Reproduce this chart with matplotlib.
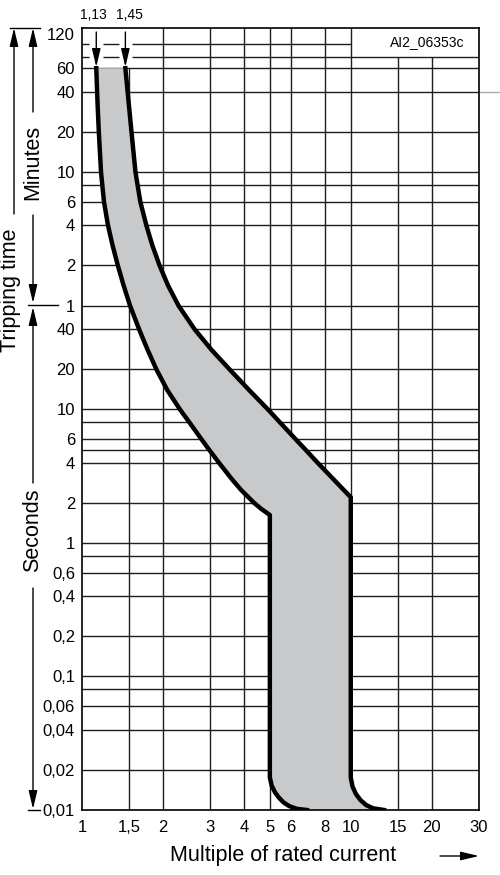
import matplotlib
matplotlib.use('Agg')
import matplotlib.pyplot as plt
from matplotlib.lines import Line2D
from matplotlib.patches import ArrowStyle, FancyArrowPatch

plt.rcParams['font.family'] = ['Liberation Sans', 'DejaVu Sans']

# tripping curve limits: multiple of rated current vs. time in seconds
low_x = [1.130, 1.142, 1.155, 1.177, 1.207, 1.249, 1.299, 1.359, 1.428, 1.509, 1.630, 1.754,
         1.891, 2.075, 2.315, 2.510, 2.780, 2.970, 3.230, 3.614, 3.905, 4.364, 4.645, 5.0,
         5.0, 5.08, 5.22, 5.40, 5.62, 5.90, 6.30, 6.87]
low_t = [3600, 2000, 1200, 600, 360, 240, 170, 120, 85, 60, 40, 28,
         20, 14, 10, 8, 6, 5, 4, 3, 2.5, 2.0, 1.8, 1.62,
         0.0175, 0.0152, 0.0136, 0.0124, 0.0114, 0.0107, 0.0102, 0.0100]

high_x = [1.450, 1.491, 1.528, 1.581, 1.648, 1.735, 1.826, 1.943, 2.089, 2.286, 2.621, 3.032,
          3.538, 4.182, 4.920, 5.453, 6.228, 6.785, 7.518, 10.0,
          10.0, 10.15, 10.45, 10.85, 11.4, 12.1, 13.3]
high_t = [3600, 2000, 1200, 600, 360, 240, 170, 120, 85, 60, 40, 28,
          20, 14, 10, 8, 6, 5, 4, 2.2,
          0.0175, 0.0150, 0.0132, 0.0119, 0.0109, 0.0103, 0.0100]

# grid and ticks
x_ticks = [1, 1.5, 2, 3, 4, 5, 6, 8, 10, 15, 20, 30]
x_labels = ['1', '1,5', '2', '3', '4', '5', '6', '8', '10', '15', '20', '30']
y_ticks = [7200, 3600, 2400, 1200, 600, 360, 240, 120, 60, 40, 20, 10, 6, 4, 2, 1,
           0.6, 0.4, 0.2, 0.1, 0.06, 0.04, 0.02, 0.01]
y_labels = ['120', '60', '40', '20', '10', '6', '4', '2', '1', '40', '20', '10', '6', '4', '2', '1',
            '0,6', '0,4', '0,2', '0,1', '0,06', '0,04', '0,02', '0,01']
h_grid = [3600, 2400, 1200, 600, 480, 360, 240, 120, 60, 40, 20, 10, 8, 6, 5, 4, 2, 1,
          0.8, 0.6, 0.4, 0.2, 0.1, 0.08, 0.06, 0.04, 0.02]
v_grid = [2, 3, 4, 5, 6, 8, 10]
marks = [1.13, 1.45]
mark_labels = ['1,13', '1,45']

fig = plt.figure(figsize=(5, 8.75), dpi=100)
ax = fig.add_axes([82/500, 65/875, 397/500, 782/875])
ax.set_xscale('log')
ax.set_yscale('log')
ax.set_xlim(1, 30)
ax.set_ylim(0.01, 7200)

gc = '#1e1e1e'
glw = 1.0
ax.hlines(h_grid, 1, 30, color=gc, lw=glw, zorder=1)
ax.vlines(v_grid, 0.01, 7200, color=gc, lw=glw, zorder=1)
ax.vlines([1.5], 0.01, 3600, color=gc, lw=glw, zorder=1)
ax.vlines([15, 20], 0.01, 4400, color=gc, lw=glw, zorder=1)

# top lines, broken around the marker arrows
gap = 1.06
for t, xend in [(5500, 10), (4400, 30)]:
    pieces = [1]
    for m in marks:
        pieces += [m / gap, m * gap]
    pieces.append(xend)
    for a, b in zip(pieces[::2], pieces[1::2]):
        ax.hlines(t, a, b, color=gc, lw=glw, zorder=1)
ax.plot([30, 36], [2400, 2400], color='#aaaaaa', lw=1, clip_on=False)

# band between the limit curves
band_x = low_x + high_x[::-1]
band_t = low_t + high_t[::-1]
ax.fill(band_x, band_t, color='#c8c9cb', lw=0, zorder=2)
ax.plot(low_x, low_t, color='black', lw=3.2, solid_joinstyle='round', zorder=3)
ax.plot(high_x, high_t, color='black', lw=3.2, solid_joinstyle='round', zorder=3)

for s in ax.spines.values():
    s.set_linewidth(1.2)
    s.set_zorder(4)

ax.minorticks_off()
ax.set_xticks(x_ticks, x_labels)
ax.set_yticks(y_ticks, y_labels)
ax.tick_params(length=0, labelsize=12)
ax.tick_params(axis='y', pad=5)
ax.tick_params(axis='x', pad=7)
for lab in ax.get_yticklabels():
    if lab.get_text() == '120':
        lab.set_va('top')

ax.text(0.869, 0.982, 'AI2_06353c', transform=ax.transAxes, ha='center', va='center', fontsize=10)

# marker arrows above the band
head = ArrowStyle('-|>', head_length=0.55, head_width=0.13)
for m in marks:
    ax.annotate('', xy=(m, 1 - 67/875), xytext=(m, 1 - 32/875),
                xycoords=('data', 'figure fraction'),
                arrowprops=dict(arrowstyle=head, mutation_scale=20, color='black', lw=1,
                                shrinkA=0, shrinkB=0))
fig.text(93/500, 1 - 15/875, mark_labels[0], ha='center', va='center', fontsize=10)
fig.text(129/500, 1 - 15/875, mark_labels[1], ha='center', va='center', fontsize=10)


def fp(x, y):
    return (x / 500, 1 - y / 875)


def arrow(tail, tip):
    fig.add_artist(FancyArrowPatch(
        fp(*tail), fp(*tip), transform=fig.transFigure, arrowstyle=head,
        mutation_scale=20, color='black', lw=1, shrinkA=0, shrinkB=0))


def line(p, q):
    fig.add_artist(Line2D([fp(*p)[0], fp(*q)[0]], [fp(*p)[1], fp(*q)[1]],
                          transform=fig.transFigure, color='black', lw=1))


# left side: tripping time, minutes, seconds
line((10, 28), (40, 28))
line((28, 305), (58, 305))
line((28, 810), (40, 810))
arrow((14, 214), (14, 28))
arrow((33, 112), (33, 28))
arrow((33, 215), (33, 303))
arrow((33, 483), (33, 307))
arrow((33, 588), (33, 809))
fig.text(*fp(11, 290), 'Tripping time', rotation=90, ha='center', va='center', fontsize=15.5)
fig.text(*fp(33, 162), 'Minutes', rotation=90, ha='center', va='center', fontsize=15.5)
fig.text(*fp(33, 530), 'Seconds', rotation=90, ha='center', va='center', fontsize=15.5)

# x axis title with arrow
fig.text(*fp(283, 855), 'Multiple of rated current', ha='center', va='center', fontsize=15.5)
arrow((440, 856), (479, 856))

fig.savefig('out.png', dpi=100)
